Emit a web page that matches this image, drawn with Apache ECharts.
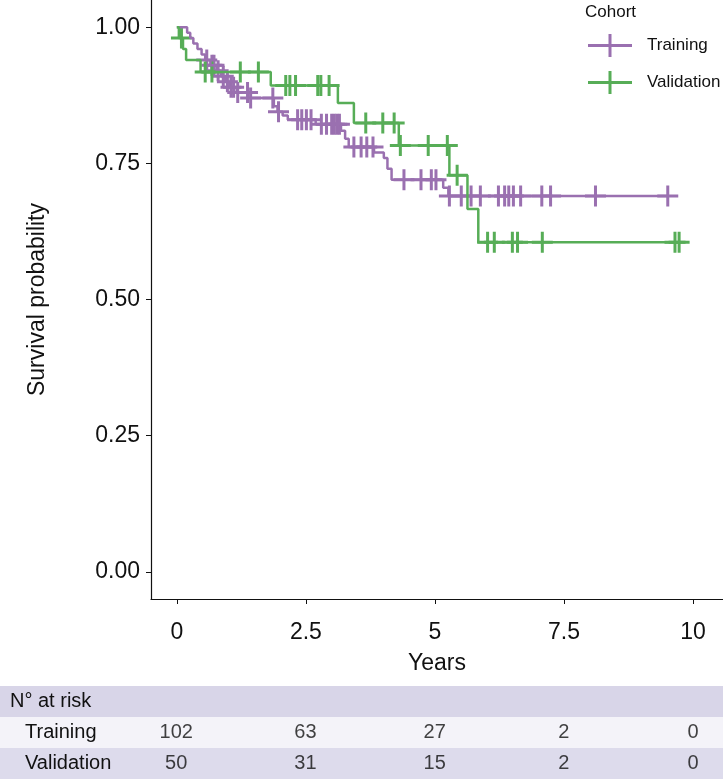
<!DOCTYPE html>
<html>
<head>
<meta charset="utf-8">
<script src="https://cdn.jsdelivr.net/npm/echarts@6/dist/echarts.min.js"></script>
<style>
  html, body { margin: 0; padding: 0; background: #fff; }
  #chart { width: 723px; height: 779px; }
</style>
</head>
<body>
<div id="chart"></div>
<script>
// Kaplan-Meier step points (time in years, survival after the event)
const trainTime = [0, 0.2, 0.26, 0.32, 0.4, 0.48, 0.55, 0.65, 0.77, 0.86, 0.94, 1.02, 1.16, 1.43, 1.88, 1.95, 2.05, 2.15, 2.69, 3.18, 3.26, 3.33, 3.82, 4.01, 4.08, 4.16, 5.16, 5.26, 9.51];
const trainSurv = [1.0, 0.99, 0.98, 0.97, 0.96, 0.95, 0.94, 0.93, 0.92, 0.91, 0.9, 0.89, 0.88, 0.87, 0.855, 0.845, 0.838, 0.83, 0.822, 0.81, 0.795, 0.78, 0.77, 0.76, 0.74, 0.72, 0.705, 0.69, 0.69];
const trainCensor = [0.58, 0.68, 0.72, 0.8, 0.9, 0.98, 1.05, 1.1, 1.18, 1.37, 1.43, 1.86, 1.97, 2.34, 2.42, 2.51, 2.6, 2.8, 2.9, 3.0, 3.05, 3.1, 3.15, 3.43, 3.57, 3.68, 3.8, 4.4, 4.73, 4.93, 5.02, 5.28, 5.51, 5.7, 5.88, 6.23, 6.35, 6.43, 6.52, 6.66, 7.07, 7.24, 8.11, 9.51];

const validTime = [0, 0.04, 0.12, 0.18, 0.46, 1.82, 3.12, 3.43, 4.3, 5.28, 5.63, 5.84, 9.73];
const validSurv = [1.0, 0.98, 0.96, 0.94, 0.918, 0.893, 0.861, 0.824, 0.783, 0.728, 0.666, 0.605, 0.605];
const validCensor = [0.09, 0.55, 0.68, 1.23, 1.58, 2.11, 2.19, 2.3, 2.73, 2.79, 2.95, 3.66, 3.99, 4.21, 4.33, 4.87, 5.24, 5.43, 6.02, 6.15, 6.5, 6.6, 7.08, 9.65, 9.73];

// number at risk table
const riskRows = ['N° at risk', 'Training', 'Validation'];
const riskTimes = [0, 2.5, 5, 7.5, 10];
const trainRisk = [102, 63, 27, 2, 0];
const validRisk = [50, 31, 15, 2, 0];

const xTicks = [0, 2.5, 5, 7.5, 10];
const yTicks = [0, 0.25, 0.5, 0.75, 1];

const purple = '#9a70b0';
const green = '#57ad57';
const ink = '#111';
const font = 'Liberation Sans, Arial, sans-serif';
const plus = 'path://M9,0h3v9h9v3h-9v9h-3v-9h-9v-3h9z';
const legendIcon = 'path://M0,10h44v3h-44z M20.5,0h3v23h-3z';

function stepPoints(ts, ss) {
  return ts.map((t, i) => [t, ss[i]]);
}
// survival value of the step curve at time t
function survAt(ts, ss, t) {
  let s = ss[0];
  for (let i = 0; i < ts.length; i++) {
    if (ts[i] <= t) s = ss[i];
  }
  return s;
}

const chart = echarts.init(document.getElementById('chart'));
chart.setOption({
  animation: false,
  textStyle: { fontFamily: font },
  title: {
    text: 'Cohort',
    left: 580, top: -1,
    textStyle: { fontSize: 17, fontWeight: 'normal', color: ink, fontFamily: font }
  },
  legend: {
    orient: 'vertical',
    left: 583, top: 29,
    itemWidth: 44, itemHeight: 23, itemGap: 14,
    textStyle: { fontSize: 17, color: ink, padding: [0, 0, 0, 10], fontFamily: font },
    data: [
      { name: 'Training', icon: legendIcon, itemStyle: { color: purple } },
      { name: 'Validation', icon: legendIcon, itemStyle: { color: green } }
    ]
  },
  grid: [
    { left: 151, right: 0, top: 0, height: 599 },
    { left: 0, right: 0, top: 686, bottom: 0 }
  ],
  xAxis: [
    {
      type: 'value', gridIndex: 0, min: -0.5, max: 10.58,
      name: 'Years', nameLocation: 'middle', nameGap: 53,
      nameTextStyle: { fontSize: 23, color: ink, fontFamily: font },
      axisLine: { onZero: false, lineStyle: { color: ink, width: 1.2 } },
      axisTick: { length: 5, lineStyle: { color: ink }, customValues: xTicks },
      axisLabel: { fontSize: 23, color: ink, margin: 22, customValues: xTicks, formatter: v => String(v) },
      splitLine: { show: false }
    },
    {
      type: 'value', gridIndex: 1, min: -3.41, max: 10.58, show: false
    }
  ],
  yAxis: [
    {
      type: 'value', gridIndex: 0, min: -0.05, max: 1.05,
      name: 'Survival probability', nameLocation: 'middle', nameGap: 102, nameRotate: 90,
      nameTextStyle: { fontSize: 23, color: ink, fontFamily: font },
      axisLine: { show: true, onZero: false, lineStyle: { color: ink, width: 1.2 } },
      axisTick: { show: true, length: 5, lineStyle: { color: ink }, customValues: yTicks },
      axisLabel: { fontSize: 23, color: ink, margin: 11, customValues: yTicks, formatter: v => v.toFixed(2) },
      splitLine: { show: false }
    },
    {
      type: 'category', gridIndex: 1, data: riskRows, inverse: true,
      axisLine: { show: false }, axisTick: { show: false },
      axisLabel: {
        inside: true, margin: 10,
        formatter: (v, i) => i === 0 ? '{h|' + v + '}' : '{r|' + v + '}',
        rich: {
          h: { fontSize: 20, color: ink, fontFamily: font },
          r: { fontSize: 20, color: ink, fontFamily: font, padding: [0, 0, 0, 15] }
        }
      },
      splitArea: { show: true, areaStyle: { color: ['#d8d5e8', '#f4f3f9', '#dddbec'] } },
      splitLine: { show: false }
    }
  ],
  series: [
    {
      name: 'Training', type: 'line', step: 'end', showSymbol: false,
      xAxisIndex: 0, yAxisIndex: 0,
      lineStyle: { color: purple, width: 2.5 }, itemStyle: { color: purple },
      data: stepPoints(trainTime, trainSurv)
    },
    {
      name: 'Training', type: 'scatter', symbol: plus, symbolSize: 21,
      xAxisIndex: 0, yAxisIndex: 0,
      itemStyle: { color: purple, opacity: 1 },
      data: trainCensor.map(t => [t, survAt(trainTime, trainSurv, t)])
    },
    {
      name: 'Validation', type: 'line', step: 'end', showSymbol: false,
      xAxisIndex: 0, yAxisIndex: 0,
      lineStyle: { color: green, width: 2.5 }, itemStyle: { color: green },
      data: stepPoints(validTime, validSurv)
    },
    {
      name: 'Validation', type: 'scatter', symbol: plus, symbolSize: 21,
      xAxisIndex: 0, yAxisIndex: 0,
      itemStyle: { color: green, opacity: 1 },
      data: validCensor.map(t => [t, survAt(validTime, validSurv, t)])
    },
    {
      name: 'risk', type: 'scatter', xAxisIndex: 1, yAxisIndex: 1,
      symbolSize: 0, silent: true,
      label: {
        show: true, position: 'inside', fontSize: 20, color: ink, fontFamily: font,
        formatter: p => String(p.value[2])
      },
      data: riskTimes.map((t, i) => [t, 'Training', trainRisk[i]])
        .concat(riskTimes.map((t, i) => [t, 'Validation', validRisk[i]]))
    }
  ]
});
</script>
</body>
</html>
